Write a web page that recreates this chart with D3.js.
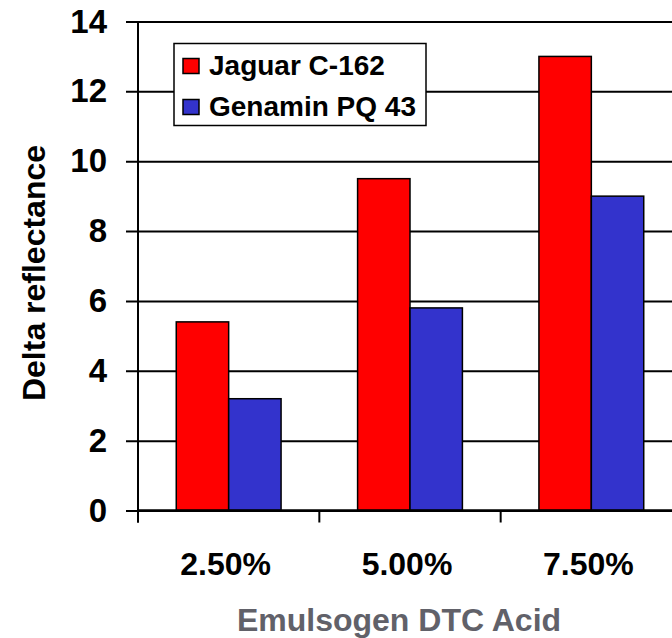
<!DOCTYPE html>
<html>
<head>
<meta charset="utf-8">
<script src="https://cdn.jsdelivr.net/npm/d3@7"></script>
<style>
  body { margin: 0; background: #fff; }
  svg { display: block; font-family: "Liberation Sans", Arial, sans-serif; font-weight: bold; }
</style>
</head>
<body>
<div id="my_dataviz"></div>
<script>
// data
var categories = ["2.50%", "5.00%", "7.50%"];
var seriesNames = ["Jaguar C-162", "Genamin PQ 43"];
var jaguar = [5.4, 9.5, 13.0];
var genamin = [3.2, 5.8, 9.0];
var yTicks = [0, 2, 4, 6, 8, 10, 12, 14];
var colors = ["#ff0000", "#3333cc"];

var data = categories.map(function(c, i) {
  return { cat: c, values: [jaguar[i], genamin[i]] };
});

// dimensions (plot runs past the right edge like the original)
var margin = {top: 21.5, left: 138},
    width = 544,
    height = 489;

var svg = d3.select("#my_dataviz")
  .append("svg")
    .attr("width", 672)
    .attr("height", 638);

var g = svg.append("g")
    .attr("transform", "translate(" + margin.left + "," + margin.top + ")");

// scales
var x = d3.scaleBand()
  .domain(categories)
  .range([0, width]);

var groupPad = x.bandwidth() * 0.211;
var x1 = d3.scaleBand()
  .domain(seriesNames)
  .range([groupPad, x.bandwidth() - groupPad]);

var y = d3.scaleLinear()
  .domain([0, 14])
  .range([height, 0]);

// horizontal gridlines + y ticks
var yAxis = g.append("g")
  .attr("transform", "translate(-12,0)")
  .call(d3.axisLeft(y).tickValues(yTicks).tickSize(-(width + 12)).tickPadding(19));
yAxis.select(".domain").remove();
yAxis.selectAll("line").attr("stroke", "#000").attr("stroke-width", 2);
yAxis.selectAll("text")
  .attr("font-size", 33)
  .attr("font-weight", "bold")
  .attr("font-family", "Liberation Sans, Arial, sans-serif")
  .attr("fill", "#000");

// bars
var groups = g.selectAll(".grp")
  .data(data)
  .enter()
  .append("g")
    .attr("transform", function(d) { return "translate(" + x(d.cat) + ",0)"; });

groups.selectAll("rect")
  .data(function(d) { return d.values.map(function(v, i) { return {name: seriesNames[i], value: v, i: i}; }); })
  .enter()
  .append("rect")
    .attr("x", function(d) { return x1(d.name); })
    .attr("y", function(d) { return y(d.value); })
    .attr("width", x1.bandwidth())
    .attr("height", function(d) { return height - y(d.value); })
    .attr("fill", function(d) { return colors[d.i]; })
    .attr("stroke", "#000")
    .attr("stroke-width", 1.5);

// y axis line
g.append("line")
  .attr("x1", 0).attr("x2", 0)
  .attr("y1", 0).attr("y2", height + 12)
  .attr("stroke", "#000").attr("stroke-width", 2);

// x axis: ticks on band boundaries, labels at centres
var bounds = categories.map(function(c) { return x(c); }).concat([width]);
g.selectAll(".xtick")
  .data(bounds)
  .enter()
  .append("line")
    .attr("x1", function(d) { return d; })
    .attr("x2", function(d) { return d; })
    .attr("y1", height)
    .attr("y2", height + 12)
    .attr("stroke", "#000").attr("stroke-width", 2);

g.append("line")
  .attr("x1", 0).attr("x2", width)
  .attr("y1", height).attr("y2", height)
  .attr("stroke", "#000").attr("stroke-width", 2.5);

g.selectAll(".xlab")
  .data(categories)
  .enter()
  .append("text")
    .attr("x", function(d) { return x(d) + x.bandwidth() / 2 - 3; })
    .attr("y", height + 64)
    .attr("text-anchor", "middle")
    .attr("font-size", 32)
    .text(function(d) { return d; });

// axis titles
svg.append("text")
  .attr("x", 399)
  .attr("y", 631)
  .attr("text-anchor", "middle")
  .attr("font-size", 32)
  .attr("fill", "#616169")
  .text("Emulsogen DTC Acid");

svg.append("text")
  .attr("transform", "translate(45,273) rotate(-90)")
  .attr("text-anchor", "middle")
  .attr("font-size", 32)
  .attr("fill", "#000")
  .text("Delta reflectance");

// legend
var legend = svg.append("g").attr("transform", "translate(174,43.5)");
legend.append("rect")
  .attr("width", 252).attr("height", 82)
  .attr("fill", "#fff").attr("stroke", "#000").attr("stroke-width", 1.5);

var items = legend.selectAll(".item")
  .data(seriesNames)
  .enter()
  .append("g")
    .attr("transform", function(d, i) { return "translate(0," + (i * 41) + ")"; });
items.append("rect")
  .attr("x", 9).attr("y", 15)
  .attr("width", 16).attr("height", 15)
  .attr("fill", function(d, i) { return colors[i]; })
  .attr("stroke", "#000").attr("stroke-width", 1.5);
items.append("text")
  .attr("x", 35).attr("y", 31)
  .attr("font-size", 28)
  .text(function(d) { return d; });
</script>
</body>
</html>
